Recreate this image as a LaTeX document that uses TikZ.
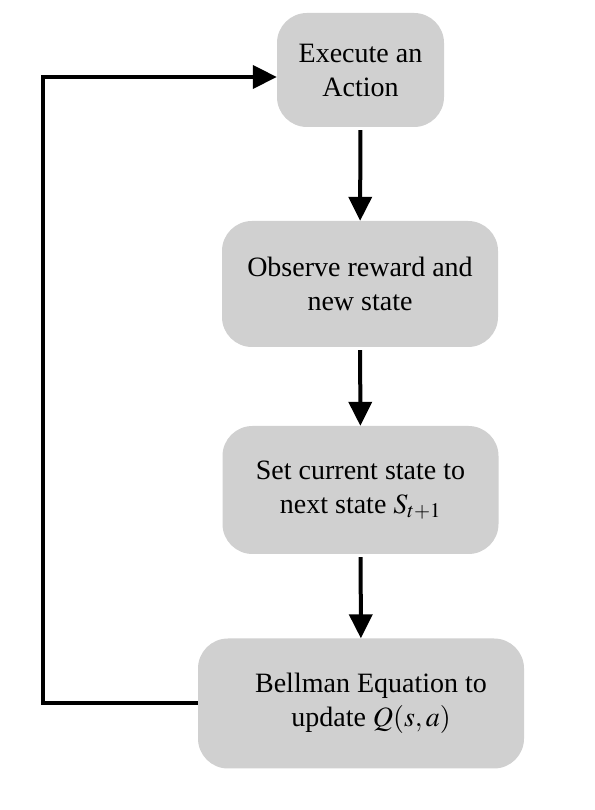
\documentclass[tikz,border=0pt]{standalone}
\usepackage{mathptmx}
\usepackage{fontspec}
\setmainfont{Liberation Serif}
\usetikzlibrary{arrows.meta,positioning}
\definecolor{boxgray}{HTML}{D0D0D0}

\begin{document}
\begin{tikzpicture}[x=1pt,y=1pt,>={Triangle[length=24pt,width=23pt]}]
\tikzset{stepbox/.style={fill=boxgray,rounded corners=30pt,align=center,inner sep=0pt,font=\fontsize{28}{34}\selectfont},
  flow/.style={->,line width=4pt}}
\useasboundingbox (0,0) rectangle (594,810);
\node[stepbox,minimum width=167pt,minimum height=114pt] (exec) at (360.5,740) {Execute an\\Action};
\node[stepbox,minimum width=276pt,minimum height=126pt] (observe) at (360,526) {Observe reward and\\new state};
\node[stepbox,minimum width=276pt,minimum height=128pt] (setstate) at (360.5,320) {Set current state to\\next state $S_{t+1}$};
\node[stepbox,minimum width=326pt,minimum height=130pt] (bellman) at (361,106.5) {\hspace*{20pt}Bellman Equation to\\\hspace*{20pt}update $Q(s,a)$};
\draw[flow,shorten <=3pt] (exec) -- (observe);
\draw[flow,shorten <=3pt] (observe) -- (setstate);
\draw[flow,shorten <=3pt] (setstate) -- (bellman);
\draw[flow] (bellman.west) -- ++(-155,0) |- ([yshift=-7pt]exec.west);
\end{tikzpicture}
\end{document}
